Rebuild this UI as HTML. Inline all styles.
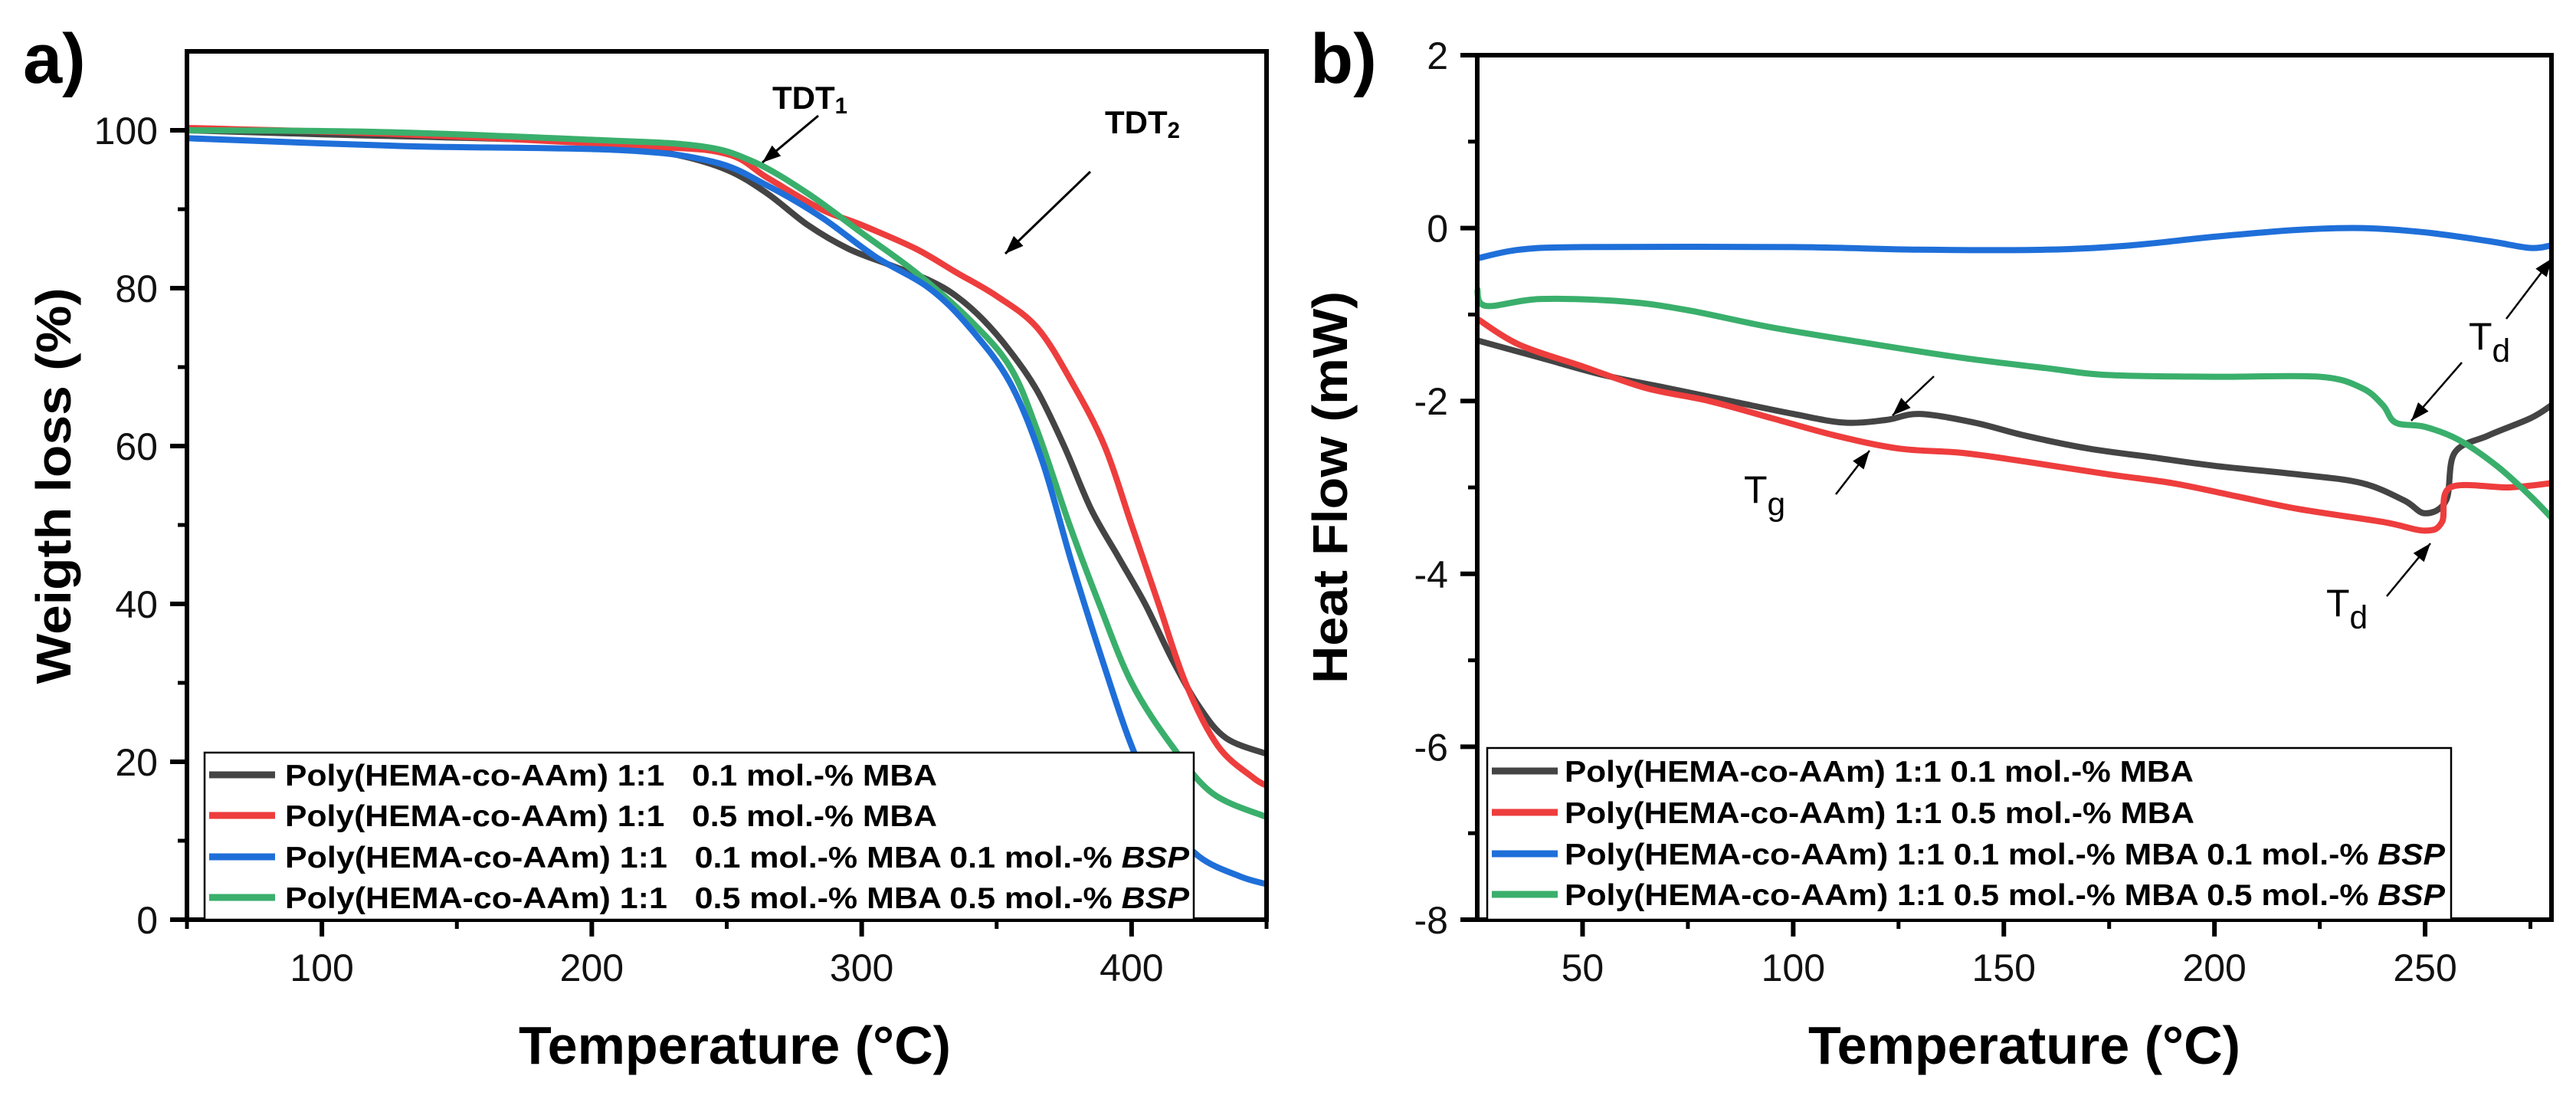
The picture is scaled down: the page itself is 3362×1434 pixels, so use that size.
<!DOCTYPE html>
<html><head><meta charset="utf-8"><style>
html,body{margin:0;padding:0;background:#fff}
svg{display:block}
text{font-family:"Liberation Sans",Arial,sans-serif;white-space:pre}
</style></head><body>
<svg id="s" width="3362" height="1434" viewBox="0 0 3362 1434" xmlns="http://www.w3.org/2000/svg">
<g id="ga"></g>
<g id="gb"></g>
</svg>
<script>
// Panel a data
const aBlackX=[50,100,200,230,250,265,280,295,310,325,335,345,355,365,375,385,395,405,415,425,435,450];
const aBlackY=[100,99.5,98.5,97,95,92,88,85,83,81,79,76,72,67,60,52,46,40,33,27,23,21];
const aRedX=[50,130,220,250,265,285,300,320,335,350,365,378,390,400,410,420,432,445,450];
const aRedY=[100.3,99.5,98,97,94,90,88,85,82,79,75,68,60,50,40,30,22,18,17];
const aBlueX=[50,130,210,245,265,285,305,325,340,355,367,378,390,400,412,425,440,450];
const aBlueY=[99,98,97.5,96,93,89,84,80,75,68,58,45,32,22,13,8,5.5,4.5];
const aGreenX=[50,120,200,240,260,280,300,320,340,355,365,377,388,400,415,430,450];
const aGreenY=[100,99.8,98.8,98,96,92,87,82,76,70,62,50,40,30,22,16,13];
const aXTicks=[100,200,300,400];
const aYTicks=[0,20,40,60,80,100];
// Panel b data
const bBlueX=[25,35,50,100,130,160,180,200,220,235,250,265,275,280];
const bBlueY=[-0.35,-0.25,-0.22,-0.22,-0.25,-0.25,-0.2,-0.1,-0.02,0,-0.05,-0.15,-0.23,-0.2];
const bGreenX=[25,27,40,60,75,95,120,140,160,175,200,225,235,240,243,250,258,267,275,280];
const bGreenY=[-0.7,-0.9,-0.82,-0.85,-0.95,-1.15,-1.35,-1.5,-1.62,-1.7,-1.72,-1.72,-1.85,-2.05,-2.25,-2.3,-2.45,-2.75,-3.1,-3.35];
const bBlackX=[25,40,55,70,85,100,112,122,130,143,155,170,185,200,220,235,245,250,255,257,265,275,280];
const bBlackY=[-1.3,-1.5,-1.7,-1.85,-2.0,-2.15,-2.25,-2.22,-2.15,-2.25,-2.4,-2.55,-2.65,-2.75,-2.85,-2.95,-3.15,-3.3,-3.15,-2.6,-2.4,-2.2,-2.05];
const bRedX=[25,35,50,65,80,95,110,125,140,155,175,190,205,220,240,250,254,256,270,280];
const bRedY=[-1.05,-1.35,-1.6,-1.85,-2.0,-2.2,-2.4,-2.55,-2.6,-2.7,-2.85,-2.95,-3.1,-3.25,-3.4,-3.5,-3.4,-3.0,-3.0,-2.95];
const bXTicks=[50,100,150,200,250];
const bYTicks=[-8,-6,-4,-2,0,2];

const NS="http://www.w3.org/2000/svg";
function mk(parent,tag,attrs){const e=document.createElementNS(NS,tag);for(const k in attrs)e.setAttribute(k,attrs[k]);parent.appendChild(e);return e;}
const COL={black:"#444444",red:"#ee3d3d",blue:"#1f6fd9",green:"#3aaf6c"};
function smooth(pts){
  let d="M"+pts[0][0].toFixed(1)+","+pts[0][1].toFixed(1);
  for(let i=0;i<pts.length-1;i++){
    const p0=pts[Math.max(0,i-1)],p1=pts[i],p2=pts[i+1],p3=pts[Math.min(pts.length-1,i+2)];
    const c1x=p1[0]+(p2[0]-p0[0])/6,c1y=p1[1]+(p2[1]-p0[1])/6;
    const c2x=p2[0]-(p3[0]-p1[0])/6,c2y=p2[1]-(p3[1]-p1[1])/6;
    d+=`C${c1x.toFixed(1)},${c1y.toFixed(1)} ${c2x.toFixed(1)},${c2y.toFixed(1)} ${p2[0].toFixed(1)},${p2[1].toFixed(1)}`;
  }
  return d;
}

function panel(g,P){
  const sx=v=>P.L+(v-P.x0)/(P.x1-P.x0)*(P.R-P.L);
  const sy=v=>P.B-(v-P.y0)/(P.y1-P.y0)*(P.B-P.T);
  P.series.forEach(s=>{
    const pts=s.x.map((v,i)=>[sx(v),sy(s.y[i])]);
    const p=mk(g,"path",{d:smooth(pts),fill:"none",stroke:COL[s.c],"stroke-width":8,"stroke-linejoin":"round"});
    
    
  });
  const fr=mk(g,"rect",{x:P.L,y:P.T,width:P.R-P.L,height:P.B-P.T,fill:"none",stroke:"#000","stroke-width":6});
  
  
  P.xt.forEach(v=>{
    const t=mk(g,"line",{x1:sx(v),x2:sx(v),y1:P.B,y2:P.B+22,stroke:"#000","stroke-width":6});
    
    
    const l=mk(g,"text",{x:sx(v),y:P.B+80,"font-size":50,"text-anchor":"middle",fill:"#111"});
    l.textContent=v;
    
    
  });
  P.xm.forEach(v=>{mk(g,"line",{x1:sx(v),x2:sx(v),y1:P.B,y2:P.B+12,stroke:"#000","stroke-width":5});});
  P.yt.forEach(v=>{
    const t=mk(g,"line",{x1:P.L-22,x2:P.L,y1:sy(v),y2:sy(v),stroke:"#000","stroke-width":6});
    
    
    const l=mk(g,"text",{x:P.L-38,y:sy(v)+18,"font-size":50,"text-anchor":"end",fill:"#111"});
    l.textContent=v;
    
    
  });
  P.ym.forEach(v=>{mk(g,"line",{x1:P.L-12,x2:P.L,y1:sy(v),y2:sy(v),stroke:"#000","stroke-width":5});});
  const xt=mk(g,"text",{x:(P.xtL+P.xtR)/2,y:1388,"font-size":70,"font-weight":"bold","text-anchor":"middle",textLength:P.xtR-P.xtL,lengthAdjust:"spacingAndGlyphs",fill:"#000"});
  xt.textContent="Temperature (°C)";
  
  
  const yt=mk(g,"text",{x:0,y:0,"font-size":64,"font-weight":"bold","text-anchor":"middle",textLength:P.ytLen,lengthAdjust:"spacingAndGlyphs",transform:`translate(${P.ytX},${P.ytY}) rotate(-90)`,fill:"#000"});
  yt.textContent=P.ytitle;
  
  
  const pl=mk(g,"text",{x:P.plX,y:108,"font-size":92,"font-weight":"bold",fill:"#000"});
  pl.textContent=P.plabel;
  
  
  const lg=mk(g,"g",{});
  
  
  mk(lg,"rect",{x:P.lgL,y:P.lgT,width:P.lgR-P.lgL,height:P.B-P.lgT,fill:"#fff",stroke:"#000","stroke-width":2.5});
  P.leg.forEach((e,i)=>{
    const y=P.lgY[i];
    const ln=mk(lg,"line",{x1:P.lgL+6,x2:P.lgL+92,y1:y,y2:y,stroke:COL[e.c],"stroke-width":9});
    
    
    const t=mk(lg,"text",{x:P.lgTx,y:y+14,"font-size":39,"font-weight":"bold",textLength:e.w,lengthAdjust:"spacingAndGlyphs",fill:"#000"});
    
    
    t.appendChild(document.createTextNode(e.t));
    if(e.i){const ts=mk(t,"tspan",{"font-style":"italic"});ts.textContent="BSP";}
  });
}
function arrow(g,x1,y1,x2,y2,w){
  const a=mk(g,"line",{x1:x1,y1:y1,x2:x2,y2:y2,stroke:"#000","stroke-width":w||2.5});
  
  
  const ang=Math.atan2(y2-y1,x2-x1),L=24,W=9;
  const bx=x2-L*Math.cos(ang),by=y2-L*Math.sin(ang);
  mk(g,"polygon",{points:`${x2},${y2} ${bx-W*Math.sin(ang)},${by+W*Math.cos(ang)} ${bx+W*Math.sin(ang)},${by-W*Math.cos(ang)}`,fill:"#000"});
}
function txt(g,x,y,s,sub,size,bold,name){
  const t=mk(g,"text",{x:x,y:y,"font-size":size,"font-weight":bold?"bold":"normal",fill:"#000"});
  
  
  t.appendChild(document.createTextNode(s));
  const ts=mk(t,"tspan",{dy:bold?6:16,"font-size":bold?size*0.7:size*0.85});ts.textContent=sub;
}

const ga=document.getElementById("ga"), gb=document.getElementById("gb");
panel(ga,{L:244,R:1653,T:67,B:1200,x0:50,x1:450,y0:0,y1:110,
  xt:aXTicks,xm:[50,150,250,350,450],yt:aYTicks,ym:[10,30,50,70,90],
  series:[{x:aBlackX,y:aBlackY,c:"black"},{x:aRedX,y:aRedY,c:"red"},{x:aGreenX,y:aGreenY,c:"green"},{x:aBlueX,y:aBlueY,c:"blue"}],
  xtL:677,xtR:1241,ytitle:"Weigth loss (%)",ytX:92,ytY:634,ytLen:517,plabel:"a)",plX:30,
  lgL:267,lgR:1558,lgT:982,lgY:[1011,1064,1118,1171],lgTx:372,
  leg:[{c:"black",t:"Poly(HEMA-co-AAm) 1:1   0.1 mol.-% MBA",w:851},
       {c:"red",t:"Poly(HEMA-co-AAm) 1:1   0.5 mol.-% MBA",w:851},
       {c:"blue",t:"Poly(HEMA-co-AAm) 1:1   0.1 mol.-% MBA 0.1 mol.-% ",i:1,w:1180},
       {c:"green",t:"Poly(HEMA-co-AAm) 1:1   0.5 mol.-% MBA 0.5 mol.-% ",i:1,w:1180}]});
panel(gb,{L:1928,R:3330,T:72,B:1200,x0:25,x1:280,y0:-8,y1:2,
  xt:bXTicks,xm:[75,125,175,225,275],yt:bYTicks,ym:[-7,-5,-3,-1,1],
  series:[{x:bBlackX,y:bBlackY,c:"black"},{x:bRedX,y:bRedY,c:"red"},{x:bBlueX,y:bBlueY,c:"blue"},{x:bGreenX,y:bGreenY,c:"green"}],
  xtL:2360,xtR:2924,ytitle:"Heat Flow (mW)",ytX:1758,ytY:636,ytLen:512,plabel:"b)",plX:1710,
  lgL:1941,lgR:3199,lgT:976,lgY:[1006,1060,1114,1167],lgTx:2042,
  leg:[{c:"black",t:"Poly(HEMA-co-AAm) 1:1 0.1 mol.-% MBA",w:821},
       {c:"red",t:"Poly(HEMA-co-AAm) 1:1 0.5 mol.-% MBA",w:822},
       {c:"blue",t:"Poly(HEMA-co-AAm) 1:1 0.1 mol.-% MBA 0.1 mol.-% ",i:1,w:1149},
       {c:"green",t:"Poly(HEMA-co-AAm) 1:1 0.5 mol.-% MBA 0.5 mol.-% ",i:1,w:1149}]});
txt(ga,1008,142,"TDT","1",42,true,"tdt1-label");
txt(ga,1442,174,"TDT","2",42,true,"tdt2-label");
arrow(ga,1068,151,995,212,3);
arrow(ga,1423,224,1312,331,3);
txt(gb,2276,656,"T","g",50,false,"tg-label");
arrow(gb,2524,491,2470,542);
arrow(gb,2396,645,2440,588);
txt(gb,3222,456,"T","d",50,false,"td-label-upper");
arrow(gb,3213,473,3147,549);
arrow(gb,3271,416,3331,337);
txt(gb,3036,804,"T","d",50,false,"td-label-lower");
arrow(gb,3115,778,3172,709);
</script>
</body></html>
